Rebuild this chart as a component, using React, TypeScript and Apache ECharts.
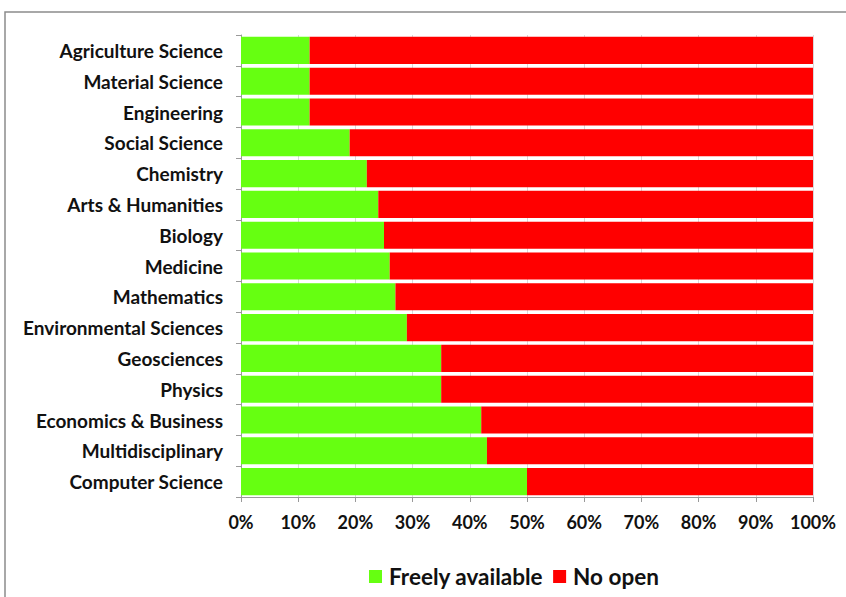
import React, { useEffect, useRef } from "react";
import * as echarts from "echarts";

const categories = [
  "Agriculture Science",
  "Material Science",
  "Engineering",
  "Social Science",
  "Chemistry",
  "Arts & Humanities",
  "Biology",
  "Medicine",
  "Mathematics",
  "Environmental Sciences",
  "Geosciences",
  "Physics",
  "Economics & Business",
  "Multidisciplinary",
  "Computer Science",
];
const freelyAvailable = [12, 12, 12, 19, 22, 24, 25, 26, 27, 29, 35, 35, 42, 43, 50];
const noOpen = [88, 88, 88, 81, 78, 76, 75, 74, 73, 71, 65, 65, 58, 57, 50];
const seriesNames = ["Freely available", "No open"];

const FONT = "Lato, 'Open Sans', sans-serif";

export default function App() {
  const ref = useRef<HTMLDivElement>(null);
  useEffect(() => {
    if (!ref.current) return;
    const chart = echarts.init(ref.current, null, { renderer: "svg" });
    chart.setOption({
      animation: false,
      backgroundColor: "#ffffff",
      graphic: [
        {
          type: "rect",
          shape: { x: 5, y: 12, width: 900, height: 700 },
          style: { fill: "none", stroke: "#8c8c8c", lineWidth: 1.5 },
          z: -1,
        },
      ],
      grid: { left: 241, right: 33, top: 35, bottom: 100, containLabel: false },
      legend: {
        left: 364,
        top: 560,
        icon: "rect",
        itemWidth: 13,
        itemHeight: 13,
        itemGap: 10,
        data: seriesNames,
        textStyle: { fontFamily: FONT, fontSize: 22.5, fontWeight: "bold", color: "#111", padding: [0, 0, 0, 2] },
      },
      xAxis: {
        type: "value",
        min: 0,
        max: 100,
        interval: 10,
        axisLine: { show: true, lineStyle: { color: "#9a9a9a" } },
        axisTick: { show: true, length: 5, lineStyle: { color: "#9a9a9a" } },
        splitLine: { show: true, lineStyle: { color: "#d9d9d9" } },
        axisLabel: {
          formatter: "{value}%",
          fontFamily: FONT,
          fontSize: 18,
          fontWeight: "bold",
          color: "#111",
          margin: 16,
        },
      },
      yAxis: {
        type: "category",
        inverse: true,
        data: categories,
        axisLine: { show: true, lineStyle: { color: "#9a9a9a" } },
        axisTick: { show: true, length: 5, lineStyle: { color: "#9a9a9a" } },
        axisLabel: {
          fontFamily: FONT,
          fontSize: 19,
          fontWeight: "bold",
          color: "#111",
          margin: 18,
        },
      },
      series: [
        {
          name: seriesNames[0],
          type: "bar",
          stack: "total",
          data: freelyAvailable,
          barCategoryGap: "12%",
          itemStyle: { color: "#66ff11" },
        },
        {
          name: seriesNames[1],
          type: "bar",
          stack: "total",
          data: noOpen,
          barCategoryGap: "12%",
          itemStyle: { color: "#ff0000" },
        },
      ],
    });
    return () => chart.dispose();
  }, []);
  return <div ref={ref} style={{ width: 846, height: 597, position: "absolute", left: 0, top: 0 }} />;
}
